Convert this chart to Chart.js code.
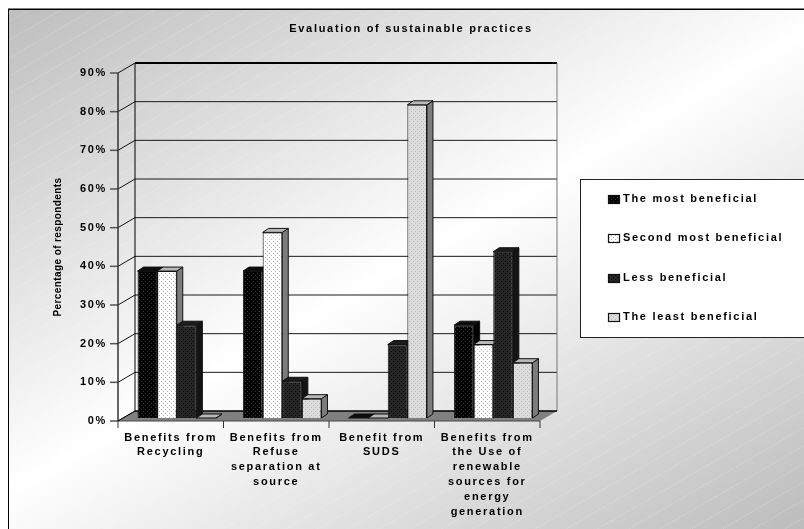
<!DOCTYPE html>
<html>
<head>
<meta charset="utf-8">
<title>Evaluation of sustainable practices</title>
<script src="https://cdn.jsdelivr.net/npm/chart.js@4"></script>
<style>
  html, body { margin: 0; padding: 0; background: #fff; }
  canvas { display: block; }
</style>
</head>
<body>
<canvas id="practices" width="804" height="529"></canvas>
<script>
const chartTitle = "Evaluation of sustainable practices";
const yAxisTitle = "Percentage of respondents";
const categories = [
  ["Benefits from", "Recycling"],
  ["Benefits from", "Refuse", "separation at", "source"],
  ["Benefit from", "SUDS"],
  ["Benefits from", "the Use of", "renewable", "sources for", "energy", "generation"]
];
const seriesNames = ["The most beneficial", "Second most beneficial", "Less beneficial", "The least beneficial"];
const mostBeneficial = [38, 38, 0, 24];
const secondMost = [38, 48, 0, 19];
const lessBeneficial = [24, 9.5, 19, 43];
const leastBeneficial = [0, 5, 81, 14.3];
const seriesValues = [mostBeneficial, secondMost, lessBeneficial, leastBeneficial];

const faceColors = ["#000000", "#ffffff", "#262626", "#dcdcdc"];
const dotColors = ["#3c3c3c", "#b4b4b4", "#050505", "#b8b8b8"];
const sideColors = ["#000000", "#7c7c7c", "#141414", "#7c7c7c"];
const topColors = ["#0c0c0c", "#b8b8b8", "#1c1c1c", "#b8b8b8"];

const textFont = "bold 11px 'Liberation Sans', Arial, sans-serif";
const textSpacing = "1.7px";

// bars sit partway into the box, the wall is at the back of it
const barDepth = { dx: 6, dy: -4 };
const frontOffset = { dx: -6, dy: 3 };
const backOffset = { dx: 11, dy: -7 };

function dotPattern(bg, dot) {
  const c = document.createElement("canvas");
  c.width = 4;
  c.height = 4;
  const g = c.getContext("2d");
  g.fillStyle = bg;
  g.fillRect(0, 0, 4, 4);
  g.fillStyle = dot;
  g.fillRect(1, 1, 1, 1);
  g.fillRect(3, 3, 1, 1);
  return g.createPattern(c, "repeat");
}

function line(ctx, x1, y1, x2, y2, color, width) {
  ctx.strokeStyle = color;
  ctx.lineWidth = width;
  ctx.beginPath();
  ctx.moveTo(x1, y1);
  ctx.lineTo(x2, y2);
  ctx.stroke();
}

function poly(ctx, pts, fill, stroke) {
  ctx.beginPath();
  pts.forEach((p, i) => i ? ctx.lineTo(p[0], p[1]) : ctx.moveTo(p[0], p[1]));
  ctx.closePath();
  ctx.fillStyle = fill;
  ctx.fill();
  if (stroke) {
    ctx.strokeStyle = stroke;
    ctx.lineWidth = 1;
    ctx.stroke();
  }
}

const patterns = faceColors.map((c, i) => dotPattern(c, dotColors[i]));

// Page backdrop: diagonal grey-white-grey with faint pale stripes
const backdrop = {
  id: "backdrop",
  beforeDraw(chart) {
    const ctx = chart.ctx;
    ctx.letterSpacing = textSpacing;
    ctx.save();
    ctx.beginPath();
    ctx.rect(8, 9, 796, 520);
    ctx.clip();
    const grad = ctx.createLinearGradient(0, 0, 430, 745);
    grad.addColorStop(0, "#bcbcbc");
    grad.addColorStop(0.5, "#ffffff");
    grad.addColorStop(1, "#bcbcbc");
    ctx.fillStyle = grad;
    ctx.fillRect(8, 9, 796, 520);
    ctx.setLineDash([2, 1]);
    for (let t = 8; t < 870; t += 15.6) {
      const px = t * 0.5, py = t * 0.866;
      line(ctx, px - 866, py + 500, px + 866, py - 500, "rgba(255,255,255,0.25)", 1);
    }
    ctx.restore();
    line(chart.ctx, 8, 8.5, 804, 8.5, "#808080", 1);
    line(chart.ctx, 8, 9.5, 804, 9.5, "#000000", 1);
    line(chart.ctx, 8.5, 9, 8.5, 529, "#000000", 1);
  }
};

// Box behind the bars: walls, floor, gridlines and tick marks
const box3d = {
  id: "box3d",
  beforeDatasetsDraw(chart) {
    const ctx = chart.ctx;
    const { x: xs, y: ys } = chart.scales;
    const fL = xs.left + frontOffset.dx, fR = xs.right + frontOffset.dx;
    const bL = xs.left + backOffset.dx, bR = xs.right + backOffset.dx;
    const zero = ys.getPixelForValue(0), max = ys.getPixelForValue(90);
    ctx.save();
    ys.ticks.forEach(t => {
      const y = ys.getPixelForValue(t.value);
      const fy = y + frontOffset.dy, by = y + backOffset.dy;
      if (t.value > 0) line(ctx, bL, by, bR, by, t.value === 90 ? "#000" : "#1a1a1a", t.value === 90 ? 2 : 1);
      line(ctx, fL, fy, bL, by, "#111", 1);
      line(ctx, fL - 8, fy, fL, fy, "#555", 1.5);
    });
    line(ctx, fL, max + frontOffset.dy, fL, zero + frontOffset.dy, "#333", 1.5);
    line(ctx, bL, max + backOffset.dy, bL, zero + backOffset.dy, "#000", 1);
    line(ctx, bR, max + backOffset.dy, bR, zero + backOffset.dy, "#777", 1);
    poly(ctx, [
      [fL, zero + frontOffset.dy], [fR, zero + frontOffset.dy],
      [bR, zero + backOffset.dy], [bL, zero + backOffset.dy]
    ], "#808080");
    line(ctx, bL, zero + backOffset.dy, bR, zero + backOffset.dy, "#000", 1.5);
    line(ctx, fL, zero + frontOffset.dy, fR, zero + frontOffset.dy, "#444", 1);
    line(ctx, fL, zero + frontOffset.dy, bL, zero + backOffset.dy, "#000", 1);
    const step = (fR - fL) / categories.length;
    for (let k = 0; k <= categories.length; k++) {
      const x = fL + k * step;
      line(ctx, x, zero + frontOffset.dy, x, zero + frontOffset.dy + 7, "#333", 1);
    }
    // top and right faces, the front faces go on afterwards
    seriesValues.forEach((vals, s) => {
      chart.getDatasetMeta(s).data.forEach(bar => {
        const l = bar.x - bar.width / 2, r = bar.x + bar.width / 2;
        const { dx, dy } = barDepth;
        poly(ctx, [[r, bar.y], [r + dx, bar.y + dy], [r + dx, bar.base + dy], [r, bar.base]], sideColors[s], "#111");
        poly(ctx, [[l, bar.y], [l + dx, bar.y + dy], [r + dx, bar.y + dy], [r, bar.y]], topColors[s], "#111");
      });
    });
    ctx.restore();
  }
};

// Heading, rotated axis caption and the legend panel
const labels = {
  id: "labels",
  afterDraw(chart) {
    const ctx = chart.ctx;
    ctx.save();
    ctx.fillStyle = "#000";
    ctx.font = textFont;
    ctx.textBaseline = "middle";
    ctx.textAlign = "center";
    ctx.fillText(chartTitle, 411, 29);

    ctx.save();
    ctx.translate(58, 247);
    ctx.rotate(-Math.PI / 2);
    ctx.letterSpacing = "0.4px";
    ctx.font = "bold 10px 'Liberation Sans', Arial, sans-serif";
    ctx.fillText(yAxisTitle, 0, 0);
    ctx.restore();

    ctx.fillStyle = "#ffffff";
    ctx.fillRect(580.5, 179.5, 230, 158);
    ctx.strokeStyle = "#222";
    ctx.lineWidth = 1;
    ctx.strokeRect(580.5, 179.5, 230, 158);

    ctx.textAlign = "left";
    seriesNames.forEach((name, i) => {
      const y = 199 + i * 39.3;
      const top = Math.round(y - 4);
      ctx.fillStyle = patterns[i];
      ctx.fillRect(608, top, 11, 9);
      ctx.strokeStyle = "#111";
      ctx.lineWidth = 1.2;
      ctx.strokeRect(608.5, top + 0.5, 11, 8);
      ctx.fillStyle = "#000";
      ctx.fillText(name, 623, y);
    });
    ctx.restore();
  }
};

new Chart(document.getElementById("practices"), {
  type: "bar",
  data: {
    labels: categories,
    datasets: seriesValues.map((vals, s) => ({
      label: seriesNames[s],
      data: vals,
      backgroundColor: patterns[s],
      borderColor: "#111",
      borderWidth: 1
    }))
  },
  options: {
    responsive: false,
    animation: false,
    layout: { padding: { top: 70, right: 258, left: 0, bottom: 0 } },
    datasets: { bar: { categoryPercentage: 0.743, barPercentage: 1 } },
    plugins: {
      legend: { display: false },
      title: { display: false },
      tooltip: { enabled: false }
    },
    scales: {
      x: {
        grid: { display: false },
        border: { display: false },
        afterFit(scale) { scale.height = 111; },
        ticks: {
          autoSkip: false,
          maxRotation: 0,
          minRotation: 0,
          padding: 4,
          labelOffset: -6,
          color: "#000",
          font: { family: "'Liberation Sans', Arial, sans-serif", size: 11, weight: "bold", lineHeight: 1.36 }
        }
      },
      y: {
        min: 0,
        max: 90,
        grid: { display: false },
        border: { display: false },
        afterFit(scale) { scale.width = 124; },
        ticks: {
          stepSize: 10,
          padding: 9,
          labelOffset: 3,
          color: "#000",
          font: { family: "'Liberation Sans', Arial, sans-serif", size: 11, weight: "bold" },
          callback: v => v + "%"
        }
      }
    }
  },
  plugins: [backdrop, box3d, labels]
});
</script>
</body>
</html>
